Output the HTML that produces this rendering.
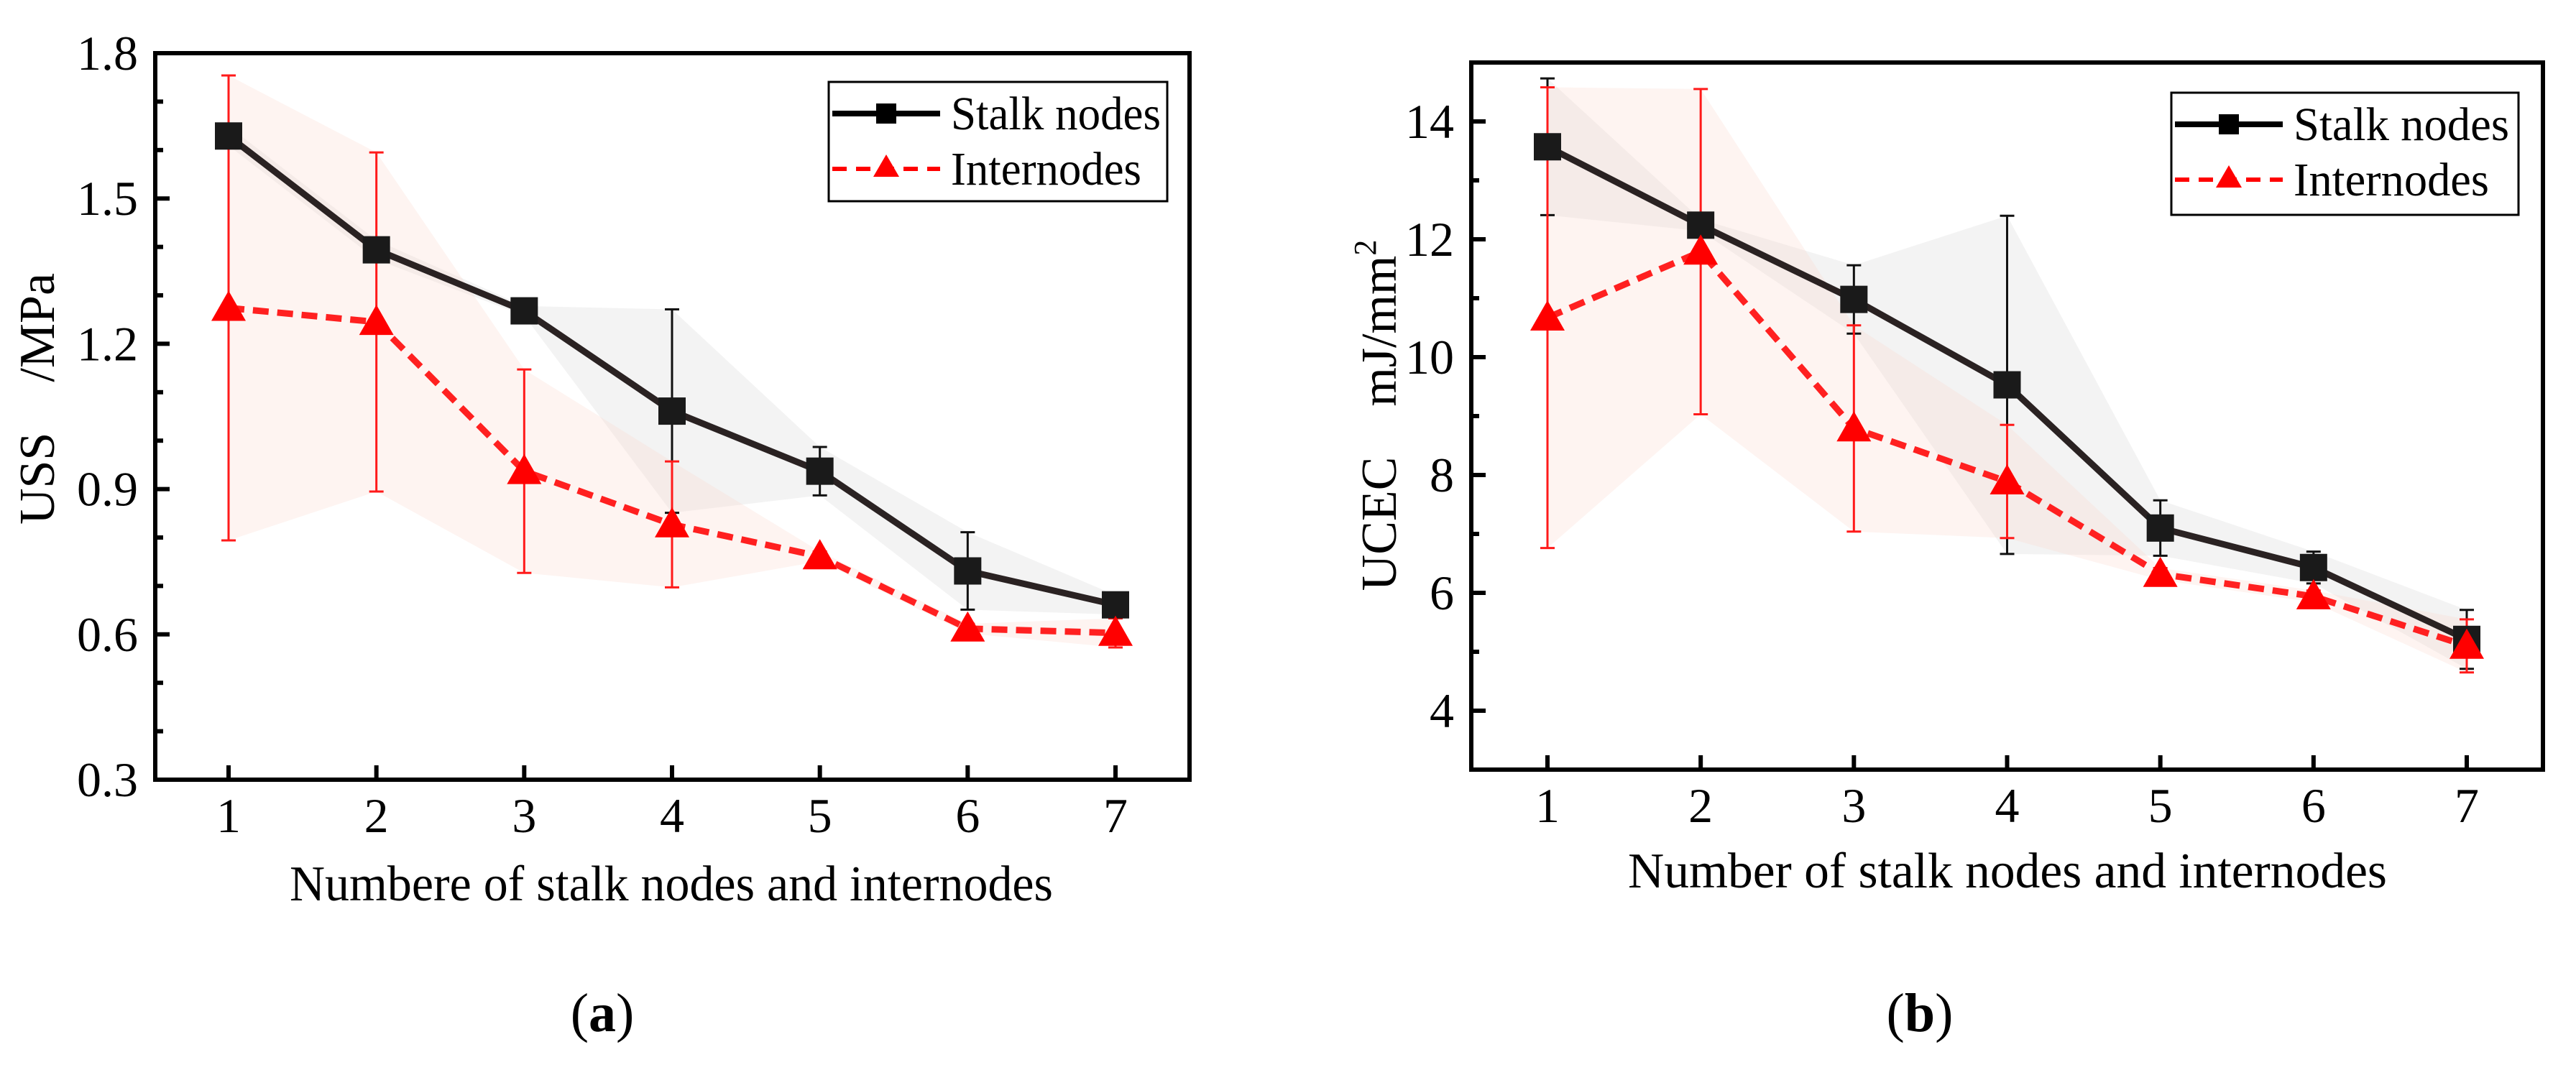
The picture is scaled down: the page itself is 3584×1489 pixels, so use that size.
<!DOCTYPE html>
<html><head><meta charset="utf-8"><style>
html,body{margin:0;padding:0;background:#fff}
svg{display:block}
text{font-family:"Liberation Serif","Times New Roman",serif;fill:#000;white-space:pre}
</style></head><body>
<svg id="fig" width="3584" height="1489" viewBox="0 0 3584 1489" xmlns="http://www.w3.org/2000/svg">
<g id="pa"></g>
<g id="pb"></g>
</svg>
<script>
// ---- data: panel (a) USS ----
const catsA = [1,2,3,4,5,6,7];
const stalkA = [1.629,1.394,1.268,1.061,0.937,0.731,0.661];
const stalkErrA = [0.02,0.02,0.01,0.21,0.05,0.08,0.02];
const interA = [1.274,1.245,0.937,0.827,0.761,0.612,0.603];
const interErrA = [0.48,0.35,0.21,0.13,0.01,0.01,0.03];
const yTicksA = ["0.3","0.6","0.9","1.2","1.5","1.8"];
// ---- data: panel (b) UCEC ----
const catsB = [1,2,3,4,5,6,7];
const stalkB = [13.57,12.24,10.98,9.53,7.10,6.43,5.21];
const stalkErrB = [1.16,0.1,0.58,2.87,0.47,0.27,0.5];
const interB = [10.67,11.79,8.79,7.89,6.32,5.94,5.10];
const interErrB = [3.91,2.76,1.75,0.96,0.1,0.1,0.45];
const yTicksB = ["4","6","8","10","12","14"];

const NS="http://www.w3.org/2000/svg";
function mk(parent,tag,attrs){const e=document.createElementNS(NS,tag);for(const k in attrs)e.setAttribute(k,attrs[k]);parent.appendChild(e);return e;}

function drawPanel(g,cfg){
  const {L,R,T,B,x1,x7,ymin,ymax,minorStep,cats,stalk,sErr,inter,iErr,yTicks,xTitle,leg,labelX,yTitleX,yTitleY,yTitle,tag,tagX} = cfg;
  const xs=c=>x1+(c-1)*(x7-x1)/6;
  const ys=v=>B-(v-ymin)/(ymax-ymin)*(B-T);
  const band=(vals,errs,fill,name)=>{
    let pts=cats.map((c,i)=>xs(c)+','+ys(vals[i]+errs[i]));
    pts=pts.concat(cats.slice().reverse().map((c,j)=>{const i=cats.length-1-j;return xs(c)+','+ys(vals[i]-errs[i]);}));
    const p=mk(g,'polygon',{points:pts.join(' '),fill:fill});
    
    
  };
  band(stalk,sErr,'rgba(200,200,200,0.22)','stalk-band');
  band(inter,iErr,'rgba(250,215,205,0.28)','internode-band');
  const ebar=(vals,errs,col,w,name)=>{
    cats.forEach((c,i)=>{
      const x=xs(c),yt=ys(vals[i]+errs[i]),yb=ys(vals[i]-errs[i]);
      const e=mk(g,'path',{d:`M${x},${yt}V${yb}M${x-10},${yt}H${x+10}M${x-10},${yb}H${x+10}`,stroke:col,'stroke-width':w,fill:'none'});
      
      
    });
  };
  ebar(stalk,sErr,'#111',3,'stalk-error-bar');
  ebar(inter,iErr,'#ff1a1a',3,'internode-error-bar');
  const sl=mk(g,'polyline',{points:cats.map((c,i)=>xs(c)+','+ys(stalk[i])).join(' '),fill:'none',stroke:'#2a2222','stroke-width':9});
  
  
  const il=mk(g,'polyline',{points:cats.map((c,i)=>xs(c)+','+ys(inter[i])).join(' '),fill:'none',stroke:'#ff2020','stroke-width':9,'stroke-dasharray':'22 12'});
  
  
  cats.forEach((c,i)=>{
    const x=xs(c),y=ys(stalk[i]);
    const s=mk(g,'rect',{x:x-19,y:y-19,width:38,height:38,fill:'#1a1a1a'});
    
    
    const y2=ys(inter[i]);
    const t=mk(g,'polygon',{points:`${x},${y2-24} ${x-24},${y2+18} ${x+24},${y2+18}`,fill:'#ff0000'});
    
    
  });
  const fr=mk(g,'rect',{x:L,y:T,width:R-L,height:B-T,fill:'none',stroke:'#000','stroke-width':6});
  
  
  for(let v=ymin;v<=ymax+1e-9;v+=minorStep){
    const y=ys(v);
    const major=yTicks.some(t=>Math.abs(parseFloat(t)-v)<1e-6);
    const tk=mk(g,'line',{x1:L,x2:L+(major?20:11),y1:y,y2:y,stroke:'#000','stroke-width':6});
    
    
  }
  yTicks.forEach(t=>{
    const tx=mk(g,'text',{x:labelX,y:ys(parseFloat(t))+23,'font-size':68,'text-anchor':'end'});
    tx.textContent=t;
    
    
  });
  cats.forEach(c=>{
    const x=xs(c);
    const tk=mk(g,'line',{x1:x,x2:x,y1:B,y2:B-20,stroke:'#000','stroke-width':6});
    
    
    const tx=mk(g,'text',{x:x,y:B+73,'font-size':68,'text-anchor':'middle'});
    tx.textContent=String(c);
    
    
  });
  const xt=mk(g,'text',{x:(xTitle.x0+xTitle.x1)/2,y:xTitle.y,'font-size':70,'text-anchor':'middle',textLength:xTitle.x1-xTitle.x0,lengthAdjust:'spacingAndGlyphs'});
  xt.textContent=xTitle.t;
  
  
  const yt=mk(g,'text',{x:0,y:0,'font-size':70,'text-anchor':'middle',transform:`translate(${yTitleX},${yTitleY}) rotate(-90)`});
  yt.innerHTML=yTitle;
  
  
  const lg=mk(g,'g',{});
  
  
  mk(lg,'rect',{x:leg.x,y:leg.y,width:leg.w,height:leg.h,fill:'#fff',stroke:'#000','stroke-width':3});
  const r1=leg.y+44,r2=leg.y+121;
  const e1=mk(lg,'g',{});
  
  
  mk(e1,'line',{x1:leg.x+5,x2:leg.x+155,y1:r1,y2:r1,stroke:'#000','stroke-width':8});
  mk(e1,'rect',{x:leg.x+66,y:r1-14,width:28,height:28,fill:'#000'});
  const t1=mk(e1,'text',{x:leg.x+170,y:r1+22,'font-size':66,textLength:leg.tw1,lengthAdjust:'spacingAndGlyphs'});t1.textContent='Stalk nodes';
  const e2=mk(lg,'g',{});
  
  
  mk(e2,'line',{x1:leg.x+5,x2:leg.x+155,y1:r2,y2:r2,stroke:'#ff0000','stroke-width':6,'stroke-dasharray':'20 13'});
  mk(e2,'polygon',{points:`${leg.x+80},${r2-20} ${leg.x+62},${r2+11} ${leg.x+98},${r2+11}`,fill:'#ff0000'});
  const t2=mk(e2,'text',{x:leg.x+170,y:r2+22,'font-size':66,textLength:leg.tw2,lengthAdjust:'spacingAndGlyphs'});t2.textContent='Internodes';
  const tg=mk(g,'text',{x:tagX,y:1435,'font-size':76,'text-anchor':'middle'});
  tg.innerHTML='(<tspan font-weight="bold">'+tag+'</tspan>)';
  
  
}

drawPanel(document.getElementById('pa'),{
  L:216,R:1655,T:74,B:1085,x1:318,x7:1552,ymin:0.3,ymax:1.8,minorStep:0.1,
  cats:catsA,stalk:stalkA,sErr:stalkErrA,inter:interA,iErr:interErrA,yTicks:yTicksA,
  xTitle:{t:'Numbere of stalk nodes and internodes',x0:403,x1:1465,y:1253},
  leg:{x:1153,y:114,w:471,h:166,tw1:292,tw2:265},
  labelX:192,yTitleX:75,yTitleY:555,yTitle:'USS\u00a0\u00a0\u00a0\u00a0/MPa',tag:'a',tagX:838
});
drawPanel(document.getElementById('pb'),{
  L:2047,R:3538,T:87,B:1071,x1:2153,x7:3432,ymin:3,ymax:15,minorStep:1,
  cats:catsB,stalk:stalkB,sErr:stalkErrB,inter:interB,iErr:interErrB,yTicks:yTicksB,
  xTitle:{t:'Number of stalk nodes and internodes',x0:2265,x1:3321,y:1235},
  leg:{x:3021,y:129,w:483,h:170,tw1:300,tw2:272},
  labelX:2023,yTitleX:1942,yTitleY:578,yTitle:'UCEC\u00a0\u00a0\u00a0\u00a0mJ/mm<tspan dy="-28" font-size="44">2</tspan>',tag:'b',tagX:2671
});
</script>
</body></html>
